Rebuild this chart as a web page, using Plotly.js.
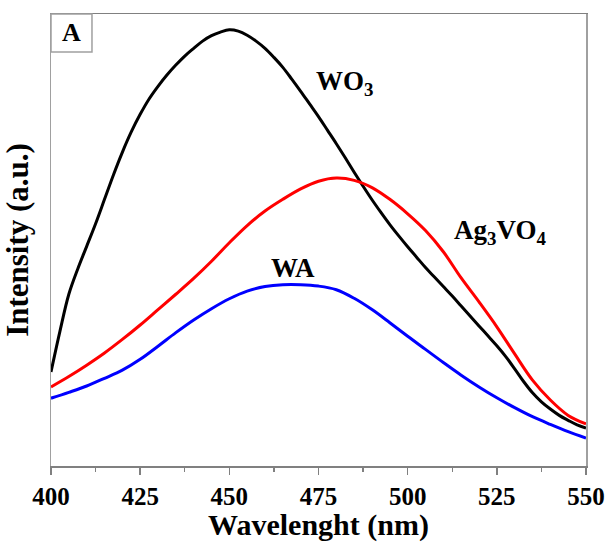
<!DOCTYPE html>
<html>
<head>
<meta charset="utf-8">
<script src="https://cdn.plot.ly/plotly-3.0.1.min.js"></script>
<style>body{margin:0;padding:0;background:#fff;} #chart{width:607px;height:542px;}</style>
</head>
<body>
<div id="chart"></div>
<script>
// Wavelength (nm) and intensity (a.u.)
const wo3X = [400, 402.5, 405, 407.5, 410, 412.5, 415, 417.5, 420, 422.5, 425, 427.5, 430, 432.5, 435, 437.5, 440, 442.5, 445, 447.5, 450, 452.5, 455, 457.5, 460, 462.5, 465, 467.5, 470, 472.5, 475, 477.5, 480, 482.5, 485, 487.5, 490, 492.5, 495, 497.5, 500, 502.5, 505, 507.5, 510, 512.5, 515, 517.5, 520, 522.5, 525, 527.5, 530, 532.5, 535, 537.5, 540, 542.5, 545, 547.5, 550];
const wo3Y = [20.8, 29.8, 38.0, 43.6, 48.6, 53.6, 59.0, 64.4, 69.4, 73.9, 77.8, 81.2, 84.0, 86.5, 88.7, 90.7, 92.4, 94.0, 95.2, 96.0, 96.5, 96.2, 95.3, 94.0, 92.4, 90.4, 88.2, 85.6, 82.9, 80.1, 77.3, 74.3, 71.3, 68.2, 65.0, 61.9, 58.9, 56.1, 53.4, 50.9, 48.5, 46.2, 43.9, 41.8, 39.7, 37.6, 35.4, 33.2, 31.0, 28.8, 26.6, 24.2, 21.5, 18.7, 16.2, 14.2, 12.6, 11.2, 10.1, 9.1, 8.4];

const agX = [400, 405, 410, 415, 420, 425, 430, 435, 440, 445, 450, 455, 460, 465, 470, 475, 480, 485, 490, 495, 500, 505, 510, 515, 520, 525, 530, 535, 540, 545, 550];
const agY = [17.5, 19.8, 22.3, 25.0, 28.0, 31.2, 34.6, 38.0, 41.5, 45.3, 49.4, 53.2, 56.4, 59.0, 61.3, 63.0, 63.7, 63.2, 61.6, 59.0, 55.8, 52.1, 47.4, 41.6, 36.3, 30.8, 24.8, 19.0, 14.6, 11.2, 9.3];

const waX = [400, 405, 410, 415, 420, 425, 430, 435, 440, 445, 450, 455, 460, 465, 470, 475, 480, 485, 490, 495, 500, 505, 510, 515, 520, 525, 530, 535, 540, 545, 550];
const waY = [15.0, 16.3, 17.7, 19.4, 21.2, 23.6, 26.5, 29.5, 32.3, 34.8, 37.0, 38.7, 39.7, 40.1, 40.1, 39.8, 39.0, 37.1, 34.6, 31.7, 28.7, 25.8, 22.9, 20.1, 17.5, 15.1, 12.9, 10.9, 9.2, 7.6, 6.2];

const tickVals = [400, 425, 450, 475, 500, 525, 550];
const tickText = ['400', '425', '450', '475', '500', '525', '550'];

const serif = 'Liberation Serif, Times New Roman, serif';

const traces = [
  {x: wo3X, y: wo3Y, mode: 'lines', name: 'WO3', line: {color: '#000000', width: 3, shape: 'spline', smoothing: 1}},
  {x: agX, y: agY, mode: 'lines', name: 'Ag3VO4', line: {color: '#ff0000', width: 3, shape: 'spline', smoothing: 1}},
  {x: waX, y: waY, mode: 'lines', name: 'WA', line: {color: '#0000ff', width: 3, shape: 'spline', smoothing: 1}}
];

const layout = {
  width: 607, height: 542,
  margin: {l: 51, r: 21, t: 14, b: 76},
  paper_bgcolor: '#ffffff', plot_bgcolor: '#ffffff',
  showlegend: false,
  xaxis: {
    range: [400, 550], tickmode: 'array', tickvals: tickVals, ticktext: tickText,
    showgrid: false, zeroline: false,
    showline: true, linecolor: '#808080', linewidth: 1.5, mirror: true,
    ticks: 'outside', ticklen: 7, tickwidth: 1.5, tickcolor: '#808080',
    minor: {dtick: 12.5, tick0: 400, ticks: 'outside', ticklen: 4, tickwidth: 1.2, tickcolor: '#808080', showgrid: false},
    tickfont: {family: serif, size: 25, color: '#000', weight: 'bold'},
    title: {text: 'Wavelenght (nm)', font: {family: serif, size: 30, color: '#000', weight: 'bold'}, standoff: 4},
    automargin: false
  },
  yaxis: {
    range: [0, 100], showticklabels: false, ticks: '',
    showgrid: false, zeroline: false,
    showline: true, linecolor: '#a0a0a0', linewidth: 1.5, mirror: true,
    title: {text: 'Intensity (a.u.)', font: {family: serif, size: 31, color: '#000', weight: 'bold'}, standoff: 12},
    automargin: false
  },
  shapes: [
    {type: 'rect', xref: 'paper', yref: 'paper', x0: 0, x1: 0.0766, y0: 0.916, y1: 1, line: {color: '#a0a0a0', width: 1.5}}
  ],
  annotations: [
    {text: 'A', xref: 'paper', yref: 'paper', x: 0.038, y: 0.958, showarrow: false, xanchor: 'center', yanchor: 'middle', font: {family: serif, size: 26, color: '#000', weight: 'bold'}},
    {text: 'WO<sub>3</sub>', x: 482.4, y: 84.7, showarrow: false, xanchor: 'center', yanchor: 'middle', font: {family: serif, size: 27, color: '#000', weight: 'bold'}},
    {text: 'Ag<sub>3</sub>VO<sub>4</sub>', x: 525.9, y: 51.8, showarrow: false, xanchor: 'center', yanchor: 'middle', font: {family: serif, size: 27, color: '#000', weight: 'bold'}},
    {text: 'WA', x: 467.8, y: 43.8, showarrow: false, xanchor: 'center', yanchor: 'middle', font: {family: serif, size: 27, color: '#000', weight: 'bold'}}
  ]
};

Plotly.newPlot('chart', traces, layout, {displayModeBar: false, staticPlot: true});
</script>
</body>
</html>
